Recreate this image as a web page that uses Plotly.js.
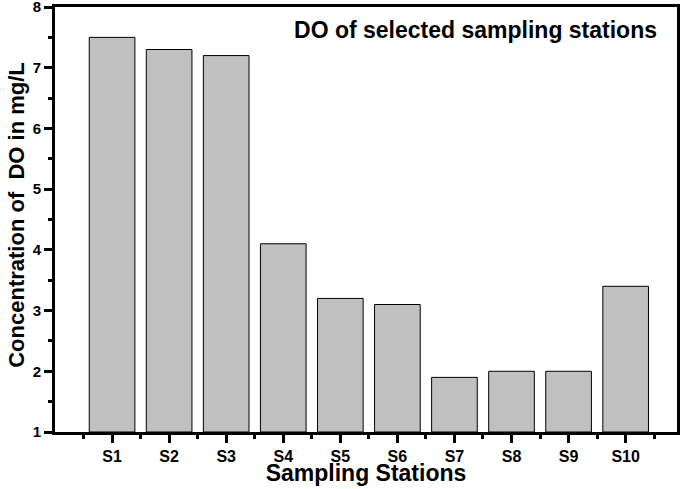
<!DOCTYPE html>
<html><head><meta charset="utf-8">
<script src="https://cdn.plot.ly/plotly-3.0.1.min.js"></script>
<style>
html,body{margin:0;padding:0;background:#fff}
#wrap{position:relative;width:685px;height:489px}
#chart{width:685px;height:489px}
.lbl{position:absolute;font-family:Arial,'Liberation Sans',sans-serif;font-weight:bold;color:#000;white-space:pre;line-height:24px;height:24px}
#ttl{right:28px;top:18px;font-size:23px}
#xt{left:366px;top:461px;font-size:23px;transform:translateX(-50%)}
#yt{left:17px;top:215px;font-size:22px;transform:translate(-50%,-50%) rotate(-90deg)}
</style>
</head><body><div id="wrap"><div id="chart"></div>
<div class="lbl" id="ttl"></div><div class="lbl" id="xt"></div><div class="lbl" id="yt"></div></div>
<script>
const stations = ["S1","S2","S3","S4","S5","S6","S7","S8","S9","S10"];
const doValues = [7.5, 7.3, 7.2, 4.1, 3.2, 3.1, 1.9, 2.0, 2.0, 3.4];
const yTicks = [1,2,3,4,5,6,7,8];
const chartTitle = "DO of selected sampling stations";
const xTitle = "Sampling Stations";
const yTitle = "Concentration of  DO in mg/L";

const F = "Arial, 'Liberation Sans', sans-serif";
const idx = stations.map((s,i)=>i);
const between = [-0.5].concat(idx.map(i=>i+0.5));

const trace = {
  type: "bar",
  x: idx,
  y: doValues.map(v => v - 1),
  base: 1,
  width: 0.8,
  marker: {color: "#c0c0c0", line: {color: "#000", width: 1}}
};

const layout = {
  width: 685, height: 489,
  margin: {l: 55, r: 8, t: 7, b: 57},
  xaxis: {
    type: "linear", range: [-1, 9.9],
    tickmode: "array", tickvals: idx, ticktext: stations,
    ticks: "outside", ticklen: 8, tickwidth: 3, tickcolor: "#000",
    minor: {tickmode: "array", tickvals: between, ticks: "outside", ticklen: 4, tickwidth: 3, tickcolor: "#000", showgrid: false},
    showline: true, linewidth: 3, linecolor: "#000", mirror: true,
    showgrid: false, zeroline: false,
    tickfont: {family: F, size: 16, color: "#000", weight: "bold"}
  },
  yaxis: {
    range: [1, 8], tickmode: "array", tickvals: yTicks,
    ticks: "outside", ticklen: 8, tickwidth: 3, tickcolor: "#000",
    minor: {dtick: 0.5, tick0: 0, ticks: "outside", ticklen: 4, tickwidth: 3, tickcolor: "#000", showgrid: false},
    showline: true, linewidth: 3, linecolor: "#000", mirror: true,
    showgrid: false, zeroline: false, ticklabeloverflow: "allow",
    tickfont: {family: F, size: 15, color: "#000", weight: "bold"}
  }
};

Plotly.newPlot("chart", [trace], layout, {displayModeBar: false}).then(() => {
  document.getElementById("ttl").textContent = chartTitle;
  document.getElementById("xt").textContent = xTitle;
  document.getElementById("yt").textContent = yTitle;
});
</script></body></html>
